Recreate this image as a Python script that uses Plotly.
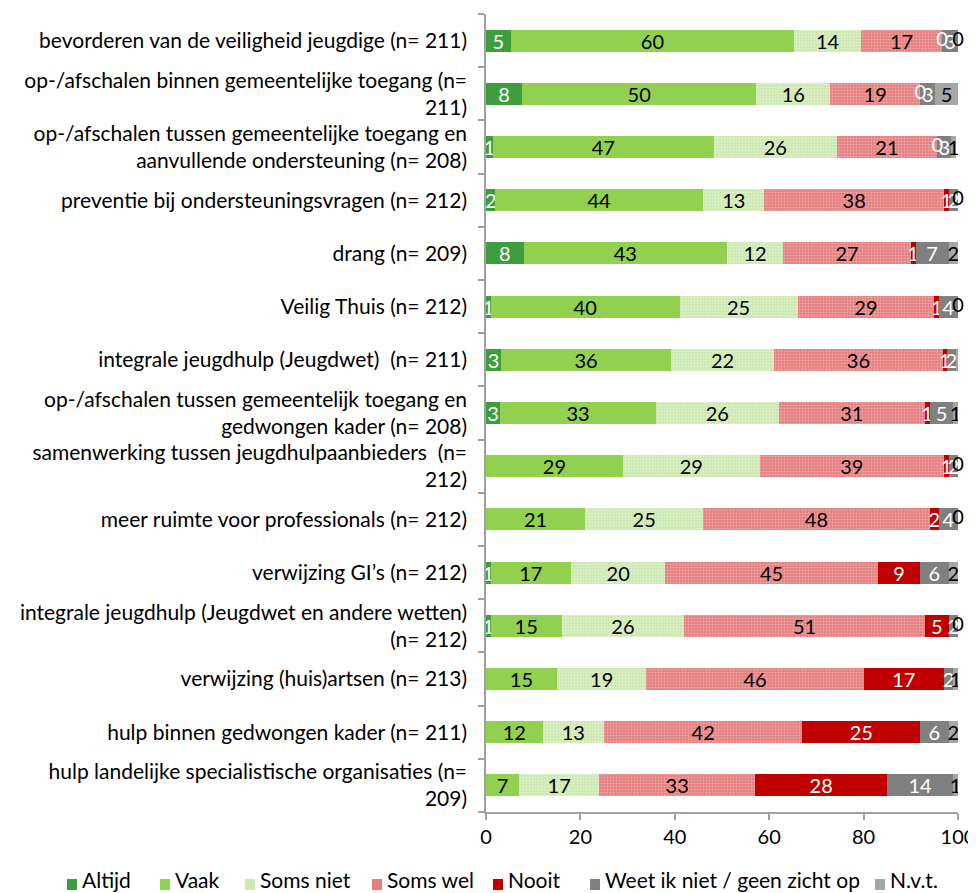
import plotly.graph_objects as go

categories = [
    "bevorderen van de veiligheid jeugdige (n= 211)",
    "op-/afschalen binnen gemeentelijke toegang (n=<br>211)",
    "op-/afschalen tussen gemeentelijke toegang en<br>aanvullende ondersteuning (n= 208)",
    "preventie bij ondersteuningsvragen (n= 212)",
    "drang (n= 209)",
    "Veilig Thuis (n= 212)",
    "integrale jeugdhulp (Jeugdwet)  (n= 211)",
    "op-/afschalen tussen gemeentelijk toegang en<br>gedwongen kader (n= 208)",
    "samenwerking tussen jeugdhulpaanbieders  (n=<br>212)",
    "meer ruimte voor professionals (n= 212)",
    "verwijzing GI’s (n= 212)",
    "integrale jeugdhulp (Jeugdwet en andere wetten)<br>(n= 212)",
    "verwijzing (huis)artsen (n= 213)",
    "hulp binnen gedwongen kader (n= 211)",
    "hulp landelijke specialistische organisaties (n=<br>209)",
]

# percentages (labels show them rounded)
altijd    = [5.2, 7.6, 1.4, 2, 8, 1, 3.2, 3, 0, 0, 1, 1, 0, 0, 0]
vaak      = [60.1, 49.7, 46.9, 44, 43, 40, 36.0, 33, 29, 21, 17, 15, 15, 12, 7]
soms_niet = [14.2, 15.6, 26.0, 13, 12, 25, 21.8, 26, 29, 25, 20, 26, 19, 13, 17]
soms_wel  = [17.1, 19.1, 21.3, 38, 27, 29, 35.8, 31, 39, 48, 45, 51, 46, 42, 33]
nooit     = [0, 0, 0, 1, 1, 1, 0.8, 1, 1, 2, 9, 5, 17, 25, 28]
weet_niet = [3.4, 3.2, 3.0, 2, 7, 4, 2.0, 5, 2, 4, 6, 2, 2, 6, 14]
nvt       = [0, 4.8, 0.9, 0, 2, 0, 0.6, 1, 0, 0, 2, 0, 1, 2, 1]

series_names = ["Altijd", "Vaak", "Soms niet", "Soms wel", "Nooit",
                "Weet ik niet / geen zicht op", "N.v.t."]
series_values = [altijd, vaak, soms_niet, soms_wel, nooit, weet_niet, nvt]
series_colors = ["#3d9e3d", "#92d050", "#cde8b2", "#e67e7e", "#c00000", "#808080", "#a6a6a6"]
text_colors = ["white", "black", "black", "black", "white", "white", "black"]
patterns = [None, None, "#f2faea", "#f7d4d4", None, None, None]

# legend layout (left edge of each legend square, in screen px)
legend_x_px = [67, 160, 245, 372, 493, 590, 875]
leg_text_y_px = 880
leg_box_y_px = 884.5

FONT = "Lato"
LBL = 21   # category label size
NUM = 20   # number size

# the page body adds an 8px offset; compensate so the plot lands where intended
OFF = 8
W, H = 976, 893
PLOT_L, PLOT_R, PLOT_T, PLOT_B = 486, 958, 14, 812   # screen px
ML = PLOT_L - OFF
MR = W - (PLOT_R - OFF)
MT = PLOT_T - OFF
MB = H - (PLOT_B - OFF)
PW, PH = PLOT_R - PLOT_L, PLOT_B - PLOT_T

fig = go.Figure()
cum = [0] * len(categories)
for name, vals, color, tcolor, pat in zip(series_names, series_values, series_colors,
                                           text_colors, patterns):
    marker = dict(color=color, line=dict(width=0))
    if pat:
        marker["pattern"] = dict(shape=".", fgcolor=pat, size=3, solidity=0.35)
    fig.add_trace(go.Bar(
        name=name, y=categories, x=vals, orientation="h", marker=marker,
        texttemplate="%{x:.0f}", textposition="inside",
        insidetextanchor="middle", textangle=0,
        textfont=dict(color=tcolor, size=NUM, family=FONT),
        showlegend=False,
    ))
    # labels for zero-width segments (Excel still prints "0")
    if name in ("Nooit", "N.v.t."):
        zx = [cum[i] for i, v in enumerate(vals) if v == 0]
        zy = [categories[i] for i, v in enumerate(vals) if v == 0]
        if zx:
            fig.add_trace(go.Scatter(
                x=zx, y=zy, mode="text", text=["0"] * len(zx),
                textposition="middle center",
                textfont=dict(color=tcolor, size=NUM, family=FONT),
                cliponaxis=False, showlegend=False, hoverinfo="skip",
            ))
    cum = [c + v for c, v in zip(cum, vals)]

# manual legend (Excel style: small square + label)
yt = (PLOT_B - leg_text_y_px) / PH
yb = (PLOT_B - leg_box_y_px) / PH
for name, color, xpx in zip(series_names, series_colors, legend_x_px):
    fig.add_shape(type="rect", xref="paper", yref="paper",
                  x0=(xpx - PLOT_L) / PW, x1=(xpx + 10 - PLOT_L) / PW,
                  y0=yb - 5.5 / PH, y1=yb + 5.5 / PH,
                  fillcolor=color, line=dict(width=0))
    fig.add_annotation(xref="paper", yref="paper", x=(xpx + 13 - PLOT_L) / PW, y=yt,
                       xanchor="left", yanchor="middle", text=name, showarrow=False,
                       font=dict(size=LBL, family=FONT, color="black"))

fig.update_layout(
    barmode="stack", bargap=0.59, width=W, height=H,
    margin=dict(l=ML, r=MR, t=MT, b=MB, autoexpand=False),
    paper_bgcolor="white", plot_bgcolor="white",
    font=dict(family=FONT, size=LBL, color="black"),
    uniformtext=dict(minsize=NUM, mode="show"),
    showlegend=False,
)

fig.update_yaxes(
    categoryorder="array", categoryarray=categories[::-1],
    autorange=False, range=[-0.5, len(categories) - 0.5],
    showline=True, linecolor="#a0a0a0", linewidth=1.5,
    ticks="outside", ticklen=6, tickcolor="#a0a0a0", tickwidth=1.5,
    tickson="boundaries", ticklabelstandoff=13, automargin=False,
    tickfont=dict(size=LBL, family=FONT, color="black"), showgrid=False,
)
fig.update_xaxes(
    range=[0, 100], tickvals=[0, 20, 40, 60, 80, 100],
    showline=True, linecolor="#a0a0a0", linewidth=1.5,
    ticks="outside", ticklen=6, tickcolor="#a0a0a0", tickwidth=1.5,
    tickfont=dict(size=NUM, family=FONT, color="black"), automargin=False,
    showgrid=False, zeroline=False,
)

fig.write_html("out.html")
